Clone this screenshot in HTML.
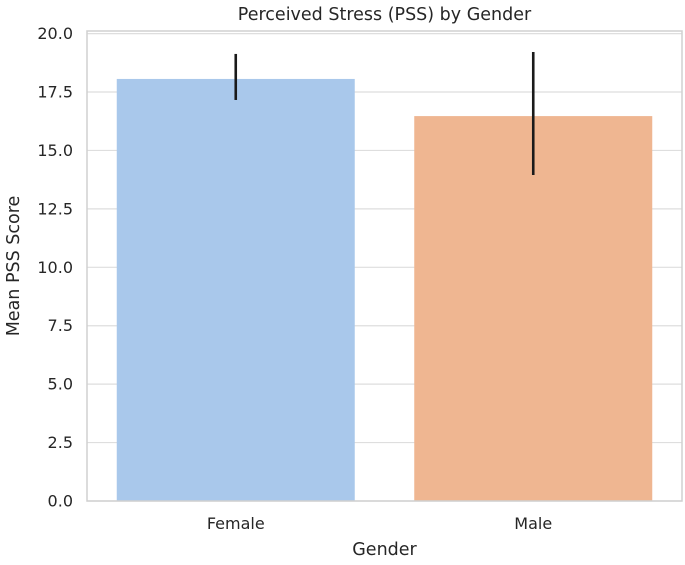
<!DOCTYPE html>
<html><head><meta charset="utf-8"><style>
body{margin:0;background:#fff;font-family:"Liberation Sans","DejaVu Sans",sans-serif;}
svg text{font-family:"DejaVu Sans","Liberation Sans",sans-serif;fill:#262626;}
</style></head><body>
<svg id="chart" width="685" height="560"></svg>
<script>
const categories = ["Female", "Male"];
const means = [18.06, 16.47];
const errLow = [17.16, 13.95];
const errHigh = [19.13, 19.21];
const yTicks = [0, 2.5, 5, 7.5, 10, 12.5, 15, 17.5, 20];
const colors = ["#a9c8eb", "#efb691"];

const NS = "http://www.w3.org/2000/svg";
const svg = document.getElementById("chart");
const L = 87, R = 682, T = 31, B = 501;
const y = v => B - v * 23.37;
const band = (R - L) / categories.length;
const xc = i => L + band * (i + 0.5);
const bw = band * 0.8;
function mk(tag, attrs, text) {
  const e = document.createElementNS(NS, tag);
  for (const k in attrs) e.setAttribute(k, attrs[k]);
  if (text !== undefined) e.textContent = text;
  svg.appendChild(e);
  return e;
}
let e;
yTicks.forEach(t => {
  e = mk("line", {x1: L, x2: R, y1: y(t), y2: y(t), stroke: "#dedede", "stroke-width": 1.2});
  
  
  e = mk("text", {x: L - 14, y: y(t) + 5.5, "text-anchor": "end", "font-size": 16}, t.toFixed(1));
  
  
});
categories.forEach((c, i) => {
  e = mk("rect", {x: xc(i) - bw / 2, y: y(means[i]), width: bw, height: y(0) - y(means[i]), fill: colors[i]});
  
  
  e = mk("line", {x1: xc(i), x2: xc(i), y1: y(errLow[i]), y2: y(errHigh[i]), stroke: "#1a1a1a", "stroke-width": 2.6});
  
  
  e = mk("text", {x: xc(i), y: 529, "text-anchor": "middle", "font-size": 16}, c);
  
  
});
e = mk("rect", {x: L, y: T, width: R - L, height: B - T, fill: "none", stroke: "#d0d0d0", "stroke-width": 1.5});


e = mk("text", {x: (L + R) / 2, y: 20, "text-anchor": "middle", "font-size": 17.5}, "Perceived Stress (PSS) by Gender");


e = mk("text", {x: (L + R) / 2, y: 555, "text-anchor": "middle", "font-size": 17.5}, "Gender");


e = mk("text", {x: 0, y: 0, "text-anchor": "middle", "font-size": 17.5, transform: "translate(19," + ((T + B) / 2) + ") rotate(-90)"}, "Mean PSS Score");


</script>
</body></html>
